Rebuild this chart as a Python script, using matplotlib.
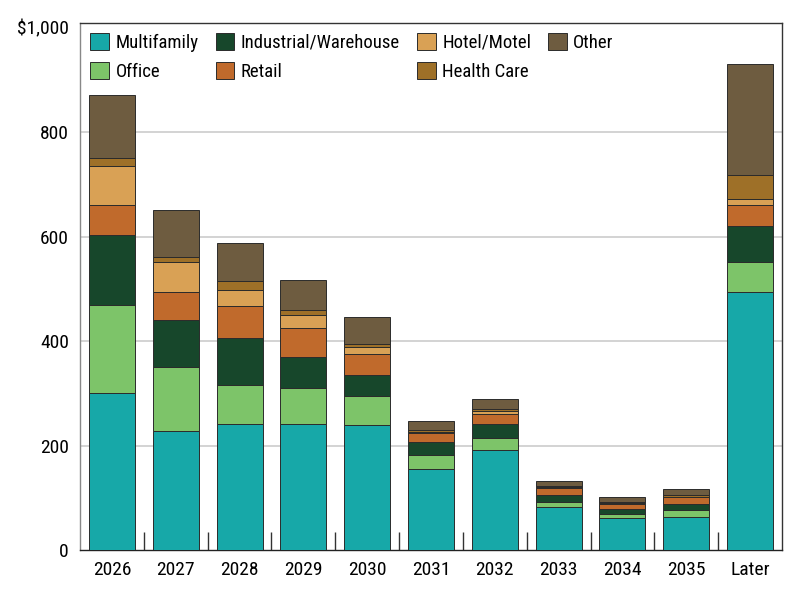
import matplotlib
matplotlib.use("Agg")
import matplotlib.pyplot as plt
import numpy as np
from matplotlib import font_manager

categories = ["2026", "2027", "2028", "2029", "2030", "2031", "2032", "2033", "2034", "2035", "Later"]
multifamily = [301, 227, 241, 241, 239, 155, 191, 82.5, 61.5, 64, 493]
office      = [168, 123.5, 75, 70, 55, 27, 23, 8.5, 7, 12, 57.5]
industrial  = [134, 89.5, 89, 58, 41, 24, 28, 15, 10, 13, 70.5]
retail      = [58, 53, 62, 55, 40, 18, 18, 13, 10, 12, 40]
hotel       = [73, 57.5, 31, 25, 14, 2, 7, 1.5, 1.5, 1, 10]
health_care = [17, 10, 16, 10, 5, 3, 3, 2.5, 2.5, 3, 47.5]
other       = [119, 90, 73, 58, 51, 17, 19, 8.5, 8.5, 12, 212]

series = [
    ("Multifamily", multifamily, "#17A8A8"),
    ("Office", office, "#7DC469"),
    ("Industrial/Warehouse", industrial, "#17472B"),
    ("Retail", retail, "#C06A2C"),
    ("Hotel/Motel", hotel, "#D9A155"),
    ("Health Care", health_care, "#9E7028"),
    ("Other", other, "#6E5C40"),
]
yticks = [0, 200, 400, 600, 800, 1000]
ylabels = ["0", "200", "400", "600", "800", "$1,000"]

available = {f.name for f in font_manager.fontManager.ttflist}
fams = [f for f in ['Liberation Sans Narrow', 'Roboto Condensed', 'Roboto', 'Liberation Sans'] if f in available]
plt.rcParams['font.family'] = fams + ['DejaVu Sans']

fig = plt.figure(figsize=(8, 6), dpi=100)
ax = fig.add_axes([0.1, 0.0833, 0.8775, 0.8787])

x = np.arange(len(categories))
bottom = np.zeros(len(categories))
for name, vals, col in series:
    v = np.array(vals, dtype=float)
    ax.bar(x, v, 0.72, bottom=bottom, color=col, edgecolor="#2b2b2b", linewidth=0.7, label=name, zorder=3)
    bottom += v

ax.set_xlim(-0.5, len(categories) - 0.5)
ax.set_ylim(0, 1009)
ax.set_yticks(yticks)
ax.set_yticklabels(ylabels, fontsize=14)
ax.tick_params(axis='y', length=0, pad=8)
ax.set_xticks(x)
ax.set_xticklabels(categories, fontsize=14)
ax.tick_params(axis='x', which='major', length=0, pad=8)
ax.set_xticks(x[:-1] + 0.5, minor=True)
ax.tick_params(axis='x', which='minor', direction='in', length=13, width=1, color='#333333')

for yv in yticks[1:-1]:
    ax.axhline(yv, color="#cccccc", linewidth=1.2, zorder=1)

ax.spines['left'].set_color('#888888')
ax.spines['bottom'].set_color('#222222')
ax.spines['top'].set_color('#333333')
ax.spines['right'].set_color('#333333')
for s in ax.spines.values():
    s.set_linewidth(1.0)

handles, labels = ax.get_legend_handles_labels()
leg = ax.legend(handles, labels, ncol=4, loc='upper left', bbox_to_anchor=(0.0, 1.0),
                frameon=False, fontsize=13.5, handlelength=1.0, handleheight=1.0,
                handletextpad=0.35, columnspacing=0.9, labelspacing=0.55,
                borderaxespad=0.2, borderpad=0.35)

fig.savefig("out.png", dpi=100)
